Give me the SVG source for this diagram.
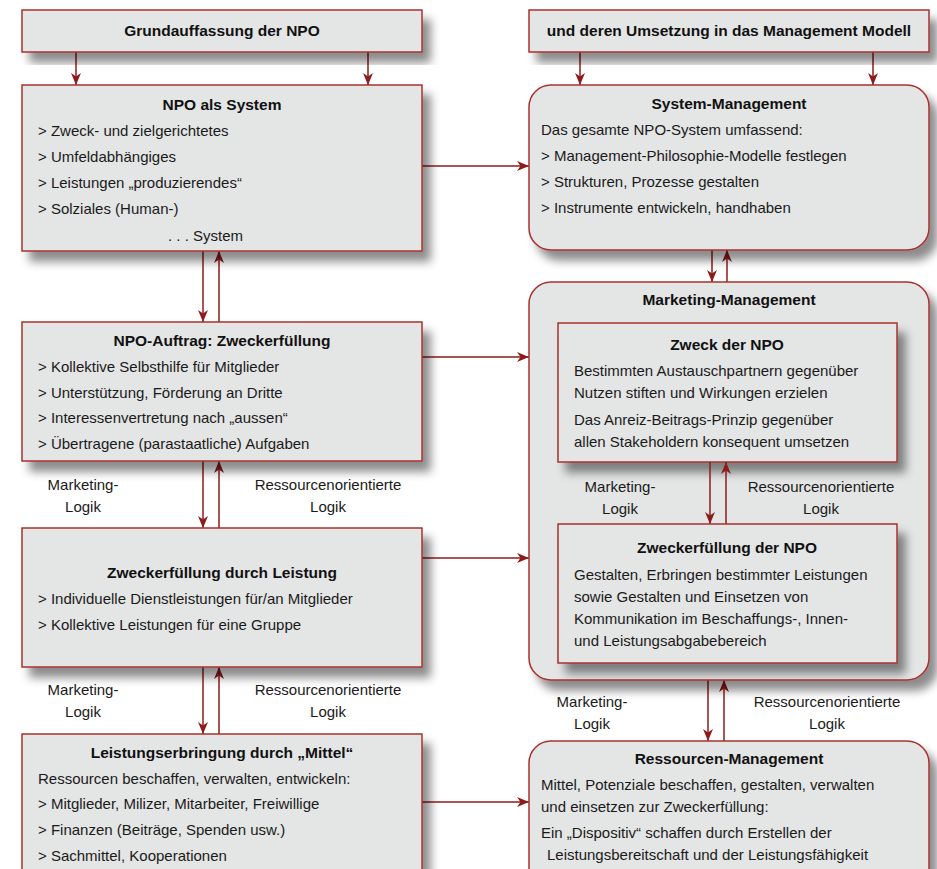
<svg xmlns="http://www.w3.org/2000/svg" width="937" height="869" viewBox="0 0 937 869">
<defs>
<filter id="sh" x="-10%" y="-10%" width="130%" height="140%">
<feDropShadow dx="8" dy="10" stdDeviation="5" flood-color="#000" flood-opacity="0.45"/>
</filter>
<marker id="ah" viewBox="0 0 12 10" refX="12" refY="5" markerWidth="12" markerHeight="10" markerUnits="userSpaceOnUse" orient="auto">
<path d="M0,0 L12,5 L0,10 L3.5,5 z" fill="#8e1b1b"/>
</marker>
<style>
.box{fill:#e4e5e5;stroke:#a8302f;stroke-width:1.5;filter:url(#sh)}
.t{font-family:"Liberation Sans",Arial,sans-serif;font-size:15px;fill:#1a1a1a}
.h{font-family:"Liberation Sans",Arial,sans-serif;font-size:15.5px;font-weight:bold;fill:#111;text-anchor:middle}
.c{text-anchor:middle}
.ln{stroke:#8e1b1b;stroke-width:1.5;fill:none;marker-end:url(#ah)}
</style>
</defs>
<rect width="937" height="869" fill="#fff"/>

<g id="connectors">
<line class="ln" x1="76" y1="52" x2="76" y2="85"/>
<line class="ln" x1="368" y1="52" x2="368" y2="85"/>
<line class="ln" x1="580" y1="52" x2="580" y2="85"/>
<line class="ln" x1="873" y1="52" x2="873" y2="85"/>
<line class="ln" x1="422" y1="166" x2="529" y2="166"/>
<line class="ln" x1="712" y1="250" x2="712" y2="282"/>
<line class="ln" x1="727" y1="282" x2="727" y2="250"/>
<line class="ln" x1="203" y1="251" x2="203" y2="322"/>
<line class="ln" x1="219" y1="322" x2="219" y2="251"/>
<line class="ln" x1="422" y1="357" x2="529" y2="357"/>
<line class="ln" x1="203" y1="461" x2="203" y2="528"/>
<line class="ln" x1="219" y1="528" x2="219" y2="461"/>
<line class="ln" x1="422" y1="558" x2="529" y2="558"/>
<line class="ln" x1="203" y1="667" x2="203" y2="734"/>
<line class="ln" x1="219" y1="734" x2="219" y2="667"/>
<line class="ln" x1="422" y1="802" x2="529" y2="802"/>
<line class="ln" x1="708" y1="680" x2="708" y2="741"/>
<line class="ln" x1="724" y1="741" x2="724" y2="680"/>
</g>

<g id="grundauffassung">
<rect class="box" x="22" y="10" width="400" height="42"/>
<text class="h" x="222" y="36">Grundauffassung der NPO</text>
</g>

<g id="umsetzung">
<rect class="box" x="529" y="10" width="400" height="42"/>
<text class="h" x="729" y="36">und deren Umsetzung in das Management Modell</text>
</g>

<g id="npo-system">
<rect class="box" x="22" y="85" width="400" height="166"/>
<text class="h" x="222" y="110">NPO als System</text>
<text class="t" x="38" y="136">&gt; Zweck- und zielgerichtetes</text>
<text class="t" x="38" y="162">&gt; Umfeldabhängiges</text>
<text class="t" x="38" y="188">&gt; Leistungen „produzierendes“</text>
<text class="t" x="38" y="214">&gt; Solziales (Human-)</text>
<text class="t" x="168" y="241">. . . System</text>
</g>

<g id="system-management">
<rect class="box" x="529" y="85" width="400" height="165" rx="22"/>
<text class="h" x="729" y="109">System-Management</text>
<text class="t" x="541" y="135">Das gesamte NPO-System umfassend:</text>
<text class="t" x="541" y="161">&gt; Management-Philosophie-Modelle festlegen</text>
<text class="t" x="541" y="187">&gt; Strukturen, Prozesse gestalten</text>
<text class="t" x="541" y="213">&gt; Instrumente entwickeln, handhaben</text>
</g>

<g id="npo-auftrag">
<rect class="box" x="22" y="322" width="400" height="139"/>
<text class="h" x="222" y="346">NPO-Auftrag: Zweckerfüllung</text>
<text class="t" x="38" y="372">&gt; Kollektive Selbsthilfe für Mitglieder</text>
<text class="t" x="38" y="398">&gt; Unterstützung, Förderung an Dritte</text>
<text class="t" x="38" y="423">&gt; Interessenvertretung nach „aussen“</text>
<text class="t" x="38" y="449">&gt; Übertragene (parastaatliche) Aufgaben</text>
</g>

<g id="labels-left-1">
<text class="t c" x="83" y="490">Marketing-</text>
<text class="t c" x="83" y="512">Logik</text>
<text class="t c" x="328" y="490">Ressourcenorientierte</text>
<text class="t c" x="328" y="512">Logik</text>
</g>

<g id="zweckerfuellung-leistung">
<rect class="box" x="22" y="528" width="400" height="139"/>
<text class="h" x="222" y="578">Zweckerfüllung durch Leistung</text>
<text class="t" x="38" y="604">&gt; Individuelle Dienstleistungen für/an Mitglieder</text>
<text class="t" x="38" y="630">&gt; Kollektive Leistungen für eine Gruppe</text>
</g>

<g id="labels-left-2">
<text class="t c" x="83" y="695">Marketing-</text>
<text class="t c" x="83" y="717">Logik</text>
<text class="t c" x="328" y="695">Ressourcenorientierte</text>
<text class="t c" x="328" y="717">Logik</text>
</g>

<g id="leistungserbringung">
<rect class="box" x="22" y="734" width="400" height="160"/>
<text class="h" x="222" y="758">Leistungserbringung durch „Mittel“</text>
<text class="t" x="38" y="784">Ressourcen beschaffen, verwalten, entwickeln:</text>
<text class="t" x="38" y="809">&gt; Mitglieder, Milizer, Mitarbeiter, Freiwillige</text>
<text class="t" x="38" y="835">&gt; Finanzen (Beiträge, Spenden usw.)</text>
<text class="t" x="38" y="861">&gt; Sachmittel, Kooperationen</text>
</g>

<g id="marketing-management">
<rect class="box" x="529" y="282" width="400" height="398" rx="22"/>
<text class="h" x="729" y="305">Marketing-Management</text>
</g>

<g id="zweck-npo">
<rect class="box" x="558" y="323" width="339" height="139"/>
<text class="h" x="727" y="350">Zweck der NPO</text>
<text class="t" x="574" y="376">Bestimmten Austauschpartnern gegenüber</text>
<text class="t" x="574" y="398">Nutzen stiften und Wirkungen erzielen</text>
<text class="t" x="574" y="425">Das Anreiz-Beitrags-Prinzip gegenüber</text>
<text class="t" x="574" y="447">allen Stakeholdern konsequent umsetzen</text>
</g>

<g id="connectors-inner">
<line class="ln" x1="710" y1="462" x2="710" y2="524"/>
<line class="ln" x1="726" y1="524" x2="726" y2="462"/>
</g>

<g id="labels-right-1">
<text class="t c" x="620" y="492">Marketing-</text>
<text class="t c" x="620" y="514">Logik</text>
<text class="t c" x="821" y="492">Ressourcenorientierte</text>
<text class="t c" x="821" y="514">Logik</text>
</g>

<g id="zweckerfuellung-npo">
<rect class="box" x="558" y="524" width="339" height="139"/>
<text class="h" x="727" y="553">Zweckerfüllung der NPO</text>
<text class="t" x="574" y="580">Gestalten, Erbringen bestimmter Leistungen</text>
<text class="t" x="574" y="602">sowie Gestalten und Einsetzen von</text>
<text class="t" x="574" y="624">Kommunikation im Beschaffungs-, Innen-</text>
<text class="t" x="574" y="646">und Leistungsabgabebereich</text>
</g>

<g id="labels-right-2">
<text class="t c" x="592" y="707">Marketing-</text>
<text class="t c" x="592" y="729">Logik</text>
<text class="t c" x="827" y="707">Ressourcenorientierte</text>
<text class="t c" x="827" y="729">Logik</text>
</g>

<g id="ressourcen-management">
<rect class="box" x="529" y="741" width="400" height="160" rx="22"/>
<text class="h" x="729" y="764">Ressourcen-Management</text>
<text class="t" x="541" y="790">Mittel, Potenziale beschaffen, gestalten, verwalten</text>
<text class="t" x="541" y="812">und einsetzen zur Zweckerfüllung:</text>
<text class="t" x="541" y="838">Ein „Dispositiv“ schaffen durch Erstellen der</text>
<text class="t" x="547" y="860">Leistungsbereitschaft und der Leistungsfähigkeit</text>
</g>
</svg>
